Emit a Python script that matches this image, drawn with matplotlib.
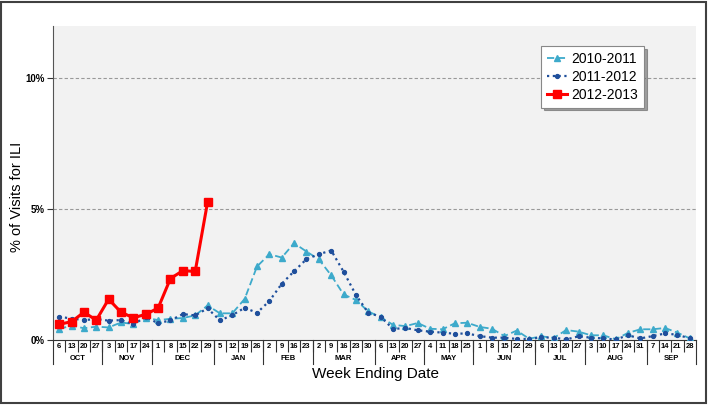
import matplotlib
matplotlib.use("Agg")
import matplotlib.pyplot as plt
import matplotlib.transforms as mtransforms
from matplotlib.patches import Rectangle
import numpy as np

plt.rcParams['font.family'] = ['Liberation Sans', 'DejaVu Sans']

# Données
week_days = [6, 13, 20, 27, 3, 10, 17, 24, 1, 8, 15, 22, 29, 5, 12, 19, 26,
             2, 9, 16, 23, 2, 9, 16, 23, 30, 6, 13, 20, 27, 4, 11, 18, 25,
             1, 8, 15, 22, 29, 6, 13, 20, 27, 3, 10, 17, 24, 31, 7, 14, 21, 28]
months = ["OCT", "NOV", "DEC", "JAN", "FEB", "MAR", "APR", "MAY", "JUN", "JUL", "AUG", "SEP"]
month_weeks = [4, 4, 5, 4, 4, 5, 4, 4, 5, 4, 5, 4]

season_2010 = [0.42, 0.55, 0.45, 0.51,
               0.48, 0.67, 0.61, 0.85,
               0.76, 0.81, 0.84, 0.94, 1.32,
               1.02, 1.02, 1.57, 2.81,
               3.28, 3.15, 3.70, 3.38,
               3.08, 2.47, 1.74, 1.53, 1.09,
               0.87, 0.58, 0.53, 0.65,
               0.43, 0.41, 0.64, 0.66,
               0.50, 0.43, 0.15, 0.36, 0.05,
               0.14, 0.08, 0.38, 0.32,
               0.18, 0.18, 0.03, 0.27, 0.41,
               0.41, 0.46, 0.28, 0.06]
season_2011 = [0.89, 0.82, 0.76, 0.80,
               0.74, 0.76, 0.60, 0.88,
               0.64, 0.75, 0.99, 0.94, 1.21,
               0.75, 0.95, 1.23, 1.04,
               1.49, 2.15, 2.63, 3.09,
               3.28, 3.42, 2.61, 1.72, 1.04,
               0.89, 0.42, 0.46, 0.37,
               0.32, 0.28, 0.24, 0.25,
               0.15, 0.09, 0.09, 0.04, 0.04,
               0.10, 0.09, 0.02, 0.14,
               0.09, 0.06, 0.02, 0.18, 0.06,
               0.15, 0.25, 0.20, 0.06]
season_2012 = [0.60, 0.70, 1.06, 0.76,
               1.56, 1.06, 0.85, 0.98,
               1.22, 2.35, 2.65, 2.62, 5.27]

x = np.arange(len(week_days))

fig = plt.figure(figsize=(7.1, 4.05), dpi=100)
ax = fig.add_axes([53/710, 65/405, 643/710, 314/405])
ax.set_facecolor("#F2F2F2")

ax.plot(x, season_2010, color="#3DAACB", linestyle=(0, (4, 2)), linewidth=1.3,
        marker="^", markersize=4.5, label="2010-2011", zorder=3)
ax.plot(x, season_2011, color="#1F4F9C", linestyle=(0, (1, 1.6)), linewidth=1.6,
        marker="o", markersize=2.8, label="2011-2012", zorder=3)
ax.plot(x[:len(season_2012)], season_2012, color="#FF0000", linestyle="-", linewidth=2.2,
        marker="s", markersize=6, label="2012-2013", zorder=4)

ax.set_xlim(-0.5, len(week_days) - 0.5)
ax.set_ylim(0, 12)

# axe y
ax.set_yticks([0, 5, 10])
ax.set_yticklabels(["0%", "5%", "10%"], fontsize=7, fontweight="bold")
ax.tick_params(axis="y", length=4, width=0.8, color="#333333", pad=2)
for yv in [5, 10]:
    ax.axhline(yv, color="#999999", linestyle=(0, (3, 2)), linewidth=0.8, zorder=1)

# axe x : semaines + mois
ax.set_xticks(x)
ax.set_xticklabels([str(d) for d in week_days], fontsize=5.5, fontweight="bold")
ax.tick_params(axis="x", which="major", length=0, pad=2.5)
ax.set_xticks(x[:-1] + 0.5, minor=True)
ax.tick_params(axis="x", which="minor", length=8.5, width=0.8, color="#333333")

trans = mtransforms.blended_transform_factory(ax.transData, ax.transAxes)
bounds = np.concatenate([[0], np.cumsum(month_weeks)]) - 0.5
for b in bounds:
    ax.plot([b, b], [0, -0.075], transform=trans, color="#333333", linewidth=0.8,
            clip_on=False)
for i, m in enumerate(months):
    ax.text((bounds[i] + bounds[i + 1]) / 2, -0.058, m, transform=trans,
            ha="center", va="center", fontsize=5.5, fontweight="bold")

for s in ["top", "right"]:
    ax.spines[s].set_visible(False)
ax.spines["left"].set_color("#555555")
ax.spines["bottom"].set_color("#333333")

fig.text(375/710, 1 - 374/405, "Week Ending Date", ha="center", va="center", fontsize=11)
fig.text(17/710, 1 - 197/405, "% of Visits for ILI", ha="center", va="center",
         rotation=90, fontsize=10.5)

leg = ax.legend(loc="upper left", bbox_to_anchor=(0.759, 0.936), borderaxespad=0,
                fontsize=10, shadow=True, fancybox=False, framealpha=1,
                edgecolor="#888888", handlelength=1.5, labelspacing=0.3,
                borderpad=0.4, handletextpad=0.3)
leg.get_frame().set_linewidth(0.8)

fig.patches.append(Rectangle((1/710, 2/405), 705/710, 401/405, transform=fig.transFigure,
                             fill=False, edgecolor="#404040", linewidth=1.5))

fig.savefig("out.png", dpi=100)
